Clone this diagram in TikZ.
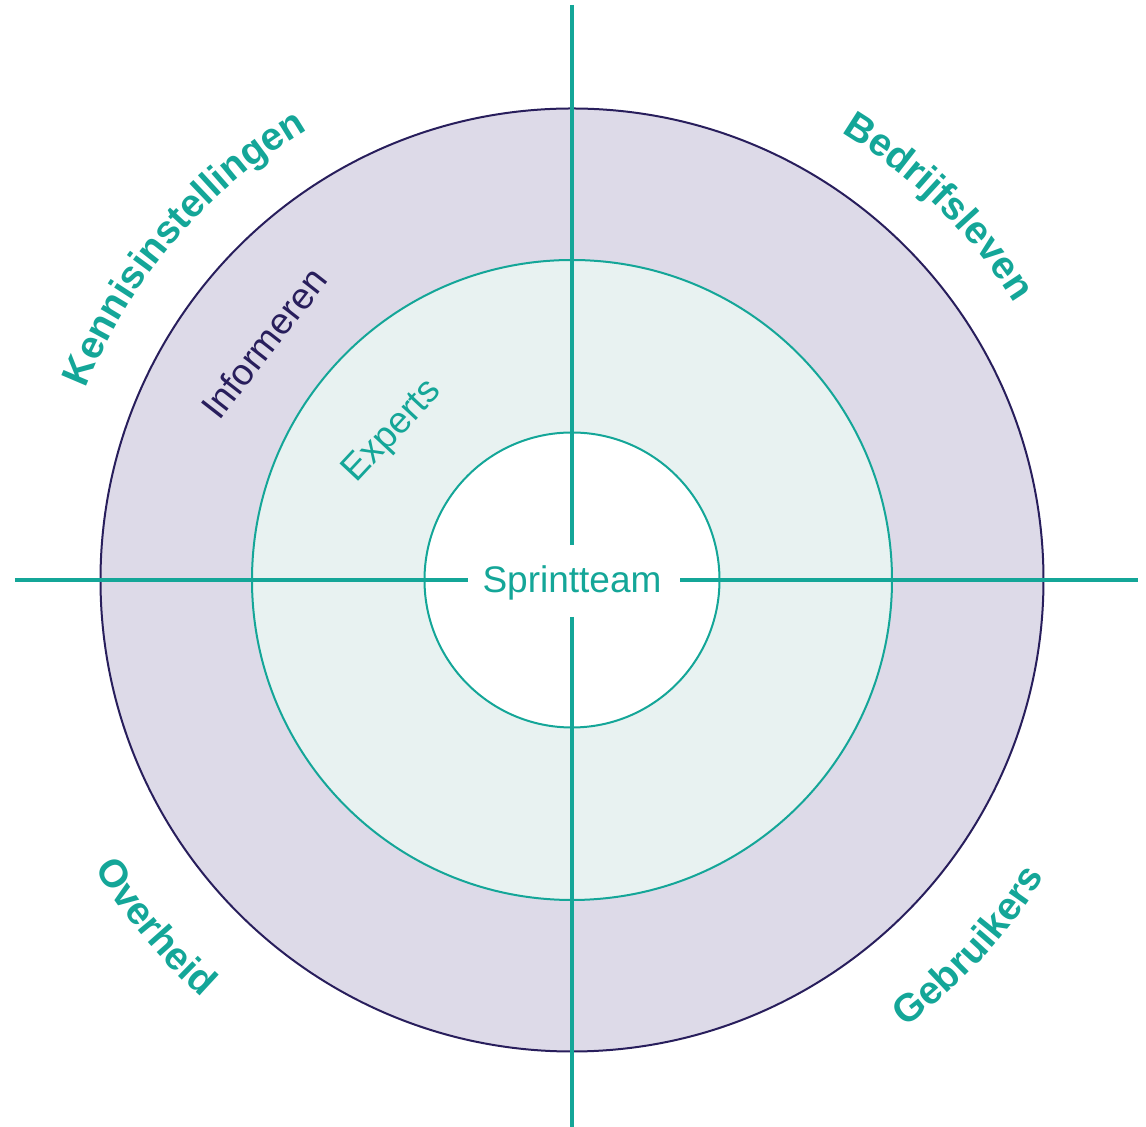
\documentclass[tikz,border=0pt]{standalone}
\usepackage{fontspec}
\setmainfont{Liberation Sans}
\usetikzlibrary{decorations.text}
\definecolor{tealc}{RGB}{20,166,152}
\definecolor{navyc}{RGB}{40,30,92}
\definecolor{bandc}{RGB}{221,218,232}
\definecolor{lightc}{RGB}{232,242,241}
\tikzset{
  ring/.style={circle, inner sep=0pt, outer sep=0pt, line width=1pt},
  axisline/.style={draw=tealc, line width=2pt},
  boldlabel/.style={decorate, decoration={text along path, text align=center,
      text={|\fontsize{19.5}{22}\selectfont\bfseries\color{tealc}|#1}}},
  innerlabel/.style={font=\fontsize{18.5}{21}\selectfont, inner sep=0pt}
}
\begin{document}
\begin{tikzpicture}
\useasboundingbox (-286pt,-273.5pt) rectangle (287pt,290pt);
% rings
\node[ring, draw=navyc, fill=bandc, minimum size=471.5pt] (outer) at (0,0) {};
\node[ring, draw=tealc, fill=lightc, minimum size=320pt] (middle) at (0,0) {};
\node[ring, draw=tealc, fill=white, minimum size=147.5pt] (inner) at (0,0) {};
% axis end points
\coordinate (topA) at (0,287.5pt);
\coordinate (topB) at (0,17.5pt);
\coordinate (botA) at (0,-18.5pt);
\coordinate (botB) at (0,-273.5pt);
\coordinate (leftA) at (-278.5pt,0);
\coordinate (leftB) at (-52pt,0);
\coordinate (rightA) at (54pt,0);
\coordinate (rightB) at (283pt,0);
\draw[axisline] (topA) -- (topB);
\draw[axisline] (botA) -- (botB);
\draw[axisline] (leftA) -- (leftB);
\draw[axisline] (rightA) -- (rightB);
% center label
\node[innerlabel, text=tealc, anchor=base] (sprint) at (0,-6.5pt) {Sprintteam};
% band labels
\node[innerlabel, text=navyc, rotate=52] (inform) at (-154pt,118.5pt) {Informeren};
\node[innerlabel, text=tealc, rotate=47] (experts) at (-89.5pt,74pt) {Experts};
% outer curved labels
\path[boldlabel=Kennisinstellingen] (184.5:261pt) arc[start angle=184.5, end angle=94.5, radius=261pt];
\path[boldlabel=Bedrijfsleven] (90.5:261pt) arc[start angle=90.5, end angle=0.5, radius=261pt];
\path[boldlabel=Overheid] (174.8:279pt) arc[start angle=174.8, end angle=264.8, radius=279pt];
\path[boldlabel=Gebruikers] (272.3:279pt) arc[start angle=272.3, end angle=362.3, radius=279pt];
\end{tikzpicture}
\end{document}
